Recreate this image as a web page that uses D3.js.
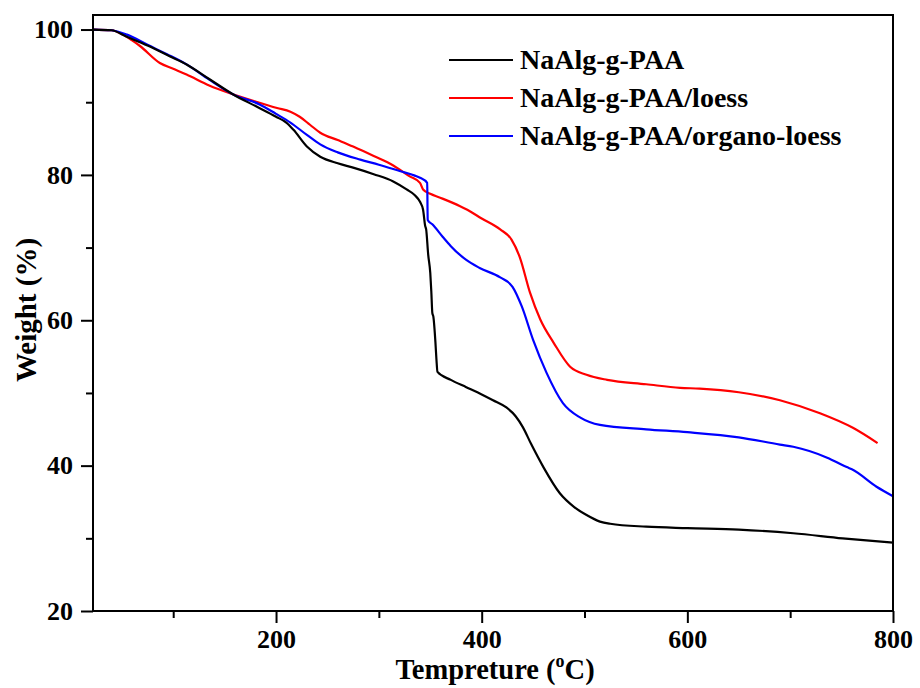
<!DOCTYPE html>
<html>
<head>
<meta charset="utf-8">
<script src="https://cdn.jsdelivr.net/npm/d3@7"></script>
<style>
  body { margin: 0; background: #fff; }
  svg text { font-family: "Liberation Serif", "Times New Roman", serif; font-weight: bold; }
</style>
</head>
<body>
<div id="chart"></div>
<script>
// temperature (°C) and weight (%)
const tempPAA = [22, 40, 55, 75, 97, 113, 135, 158, 181, 200, 210, 217, 230, 243, 260, 275, 295, 314, 327, 335, 340, 343, 345, 346, 348, 350, 351, 352, 353, 355, 356, 357, 370, 385, 400, 411, 424, 433, 440, 448, 460, 476, 490, 502, 515, 525, 560, 600, 650, 703, 751, 800];
const wPAA = [100, 99.9, 99.0, 97.8, 96.3, 95.2, 93.2, 91.1, 89.4, 88.0, 87.2, 86.2, 83.9, 82.5, 81.6, 81.0, 80.1, 79.1, 78.0, 77.2, 76.3, 75.2, 73.0, 72.5, 69.0, 66.5, 64.0, 61.0, 60.5, 57.0, 54.6, 52.9, 51.8, 50.8, 49.8, 49.0, 48.0, 46.8, 45.3, 43.0, 39.8, 36.2, 34.3, 33.2, 32.3, 32.0, 31.6, 31.4, 31.2, 30.7, 30.0, 29.4];

const tempLoess = [22, 40, 51, 60, 68, 87, 100, 113, 135, 158, 180, 201, 214, 223, 233, 243, 260, 275, 295, 314, 330, 340, 343, 350, 359, 379, 386, 400, 418, 429, 437, 447, 457, 470, 486, 502, 522, 560, 593, 612, 650, 690, 729, 761, 785];
const wLoess = [100, 99.9, 99.3, 98.5, 97.7, 95.4, 94.6, 93.8, 92.3, 91.1, 90.1, 89.2, 88.7, 88.0, 86.9, 85.8, 84.8, 83.9, 82.6, 81.3, 79.8, 78.9, 78.0, 77.4, 76.9, 75.7, 75.2, 74.0, 72.5, 71.1, 68.7, 63.8, 60.1, 56.9, 53.6, 52.5, 51.8, 51.2, 50.7, 50.6, 50.1, 49.0, 47.2, 45.2, 43.1];

const tempOrgano = [22, 40, 55, 75, 94, 113, 135, 158, 184, 200, 214, 230, 243, 260, 282, 300, 321, 335, 340, 347, 347.5, 352, 362, 370, 385, 398, 418, 430, 439, 450, 463, 479, 496, 515, 560, 600, 650, 690, 703, 736, 755, 760, 784, 800];
const wOrgano = [100, 99.9, 99.3, 97.9, 96.6, 95.2, 93.1, 91.1, 89.7, 88.4, 87.2, 85.5, 84.2, 83.1, 82.1, 81.4, 80.5, 79.9, 79.6, 78.9, 73.8, 73.2, 71.5, 70.2, 68.3, 67.2, 65.9, 64.6, 61.9, 57.3, 52.8, 48.6, 46.6, 45.6, 45.0, 44.6, 43.9, 42.9, 42.6, 41.1, 39.8, 39.5, 37.1, 35.8];

const seriesNames = ["NaAlg-g-PAA", "NaAlg-g-PAA/loess", "NaAlg-g-PAA/organo-loess"];
const seriesColors = ["#000000", "#ff0000", "#0000ff"];
const xTicks = [200, 400, 600, 800];
const yTicks = [20, 40, 60, 80, 100];

const width = 920, height = 688;
const margin = { top: 15, right: 27, bottom: 77, left: 93 };
const plotW = width - margin.left - margin.right;
const plotH = height - margin.top - margin.bottom;

const svg = d3.select("#chart").append("svg")
    .attr("width", width)
    .attr("height", height);

const g = svg.append("g")
    .attr("transform", `translate(${margin.left},${margin.top})`);

const x = d3.scaleLinear().domain([22, 800]).range([0, plotW]);
const y = d3.scaleLinear().domain([20, 102]).range([plotH, 0]);

// minor ticks at the midpoints
const xMinor = d3.range(100, 800, 200);
const yMinor = d3.range(30, 100, 20);

g.append("g")
    .attr("transform", `translate(0,${plotH})`)
    .call(d3.axisBottom(x).tickValues(xMinor).tickSize(7).tickFormat(""))
    .call(a => a.select(".domain").remove())
    .selectAll("line").attr("stroke-width", 2);
g.append("g")
    .call(d3.axisLeft(y).tickValues(yMinor).tickSize(7).tickFormat(""))
    .call(a => a.select(".domain").remove())
    .selectAll("line").attr("stroke-width", 2);

// curves
const line = d3.line()
    .x(d => x(d[0]))
    .y(d => y(d[1]))
    .curve(d3.curveMonotoneX);

const series = [
    d3.zip(tempPAA, wPAA),
    d3.zip(tempLoess, wLoess),
    d3.zip(tempOrgano, wOrgano)
];

// draw red first, then blue, black on top where they overlap
[1, 2, 0].forEach(i => {
    g.append("path")
        .datum(series[i])
        .attr("fill", "none")
        .attr("stroke", seriesColors[i])
        .attr("stroke-width", 2.2)
        .attr("stroke-linejoin", "round")
        .attr("d", line);
});

// frame
g.append("rect")
    .attr("width", plotW)
    .attr("height", plotH)
    .attr("fill", "none")
    .attr("stroke", "#000")
    .attr("stroke-width", 2);

// major axes
const xAxis = g.append("g")
    .attr("transform", `translate(0,${plotH})`)
    .call(d3.axisBottom(x).tickValues(xTicks).tickSize(12).tickPadding(7));
const yAxis = g.append("g")
    .call(d3.axisLeft(y).tickValues(yTicks).tickSize(12).tickPadding(8));
[xAxis, yAxis].forEach(a => {
    a.select(".domain").remove();
    a.selectAll("line").attr("stroke-width", 2);
    a.selectAll("text")
        .attr("font-family", "Liberation Serif")
        .attr("font-weight", "bold")
        .attr("font-size", "26px")
        .attr("fill", "#000");
});

// axis titles
const xTitle = svg.append("text")
    .attr("x", margin.left + plotW / 2 + 2)
    .attr("y", 679)
    .attr("text-anchor", "middle")
    .attr("font-size", "28.5px");
xTitle.append("tspan").text("Tempreture (");
xTitle.append("tspan").attr("font-size", "18px").attr("dy", "-12").text("o");
xTitle.append("tspan").attr("dy", "12").text("C)");

svg.append("text")
    .attr("transform", `translate(36,310) rotate(-90)`)
    .attr("text-anchor", "middle")
    .attr("font-size", "29px")
    .text("Weight (%)");

// legend
const legend = svg.append("g")
    .attr("transform", "translate(449,60)");
const legendItem = legend.selectAll(".legend-item")
    .data(seriesNames)
    .join("g")
    .attr("transform", (d, i) => `translate(0,${i * 38})`);
legendItem.append("line")
    .attr("x1", 0)
    .attr("x2", 64)
    .attr("stroke", (d, i) => seriesColors[i])
    .attr("stroke-width", 2.2);
legendItem.append("text")
    .attr("x", 71)
    .attr("y", 9)
    .attr("font-size", "28px")
    .text(d => d);
</script>
</body>
</html>
